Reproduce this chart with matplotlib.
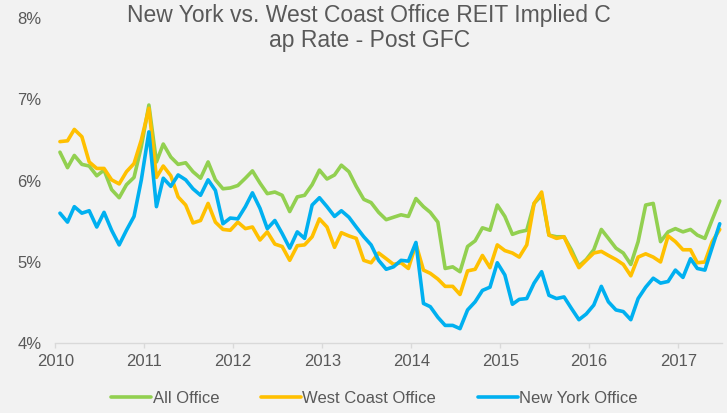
import numpy as np
import pandas as pd
import matplotlib
matplotlib.use("Agg")
import matplotlib.pyplot as plt
import matplotlib.dates as mdates

# monthly implied cap rates (%), Jan 2010 - Jun 2017
dates = pd.date_range("2010-01-20", periods=90, freq=pd.DateOffset(months=1))

all_office = [
    6.35, 6.16, 6.31, 6.20, 6.18, 6.06, 6.13, 5.89, 5.79, 5.95, 6.04, 6.42,
    6.93, 6.23, 6.45, 6.29, 6.20, 6.22, 6.11, 6.03, 6.23, 6.01, 5.90, 5.91,
    5.94, 6.03, 6.12, 5.97, 5.84, 5.86, 5.82, 5.62, 5.80, 5.82, 5.95, 6.13,
    6.02, 6.07, 6.19, 6.11, 5.93, 5.77, 5.73, 5.61, 5.52, 5.55, 5.58, 5.56,
    5.78, 5.68, 5.61, 5.49, 4.92, 4.94, 4.88, 5.19, 5.26, 5.42, 5.39, 5.70,
    5.56, 5.34, 5.37, 5.39, 5.72, 5.82, 5.33, 5.31, 5.31, 5.15, 4.95, 5.03,
    5.15, 5.40, 5.29, 5.17, 5.11, 4.97, 5.25, 5.70, 5.72, 5.25, 5.37, 5.41,
    5.37, 5.40, 5.33, 5.29, 5.52, 5.75,
]
west_coast = [
    6.48, 6.49, 6.63, 6.54, 6.23, 6.15, 6.15, 6.01, 5.96, 6.11, 6.21, 6.50,
    6.89, 6.04, 6.18, 6.06, 5.80, 5.70, 5.48, 5.51, 5.72, 5.49, 5.40, 5.39,
    5.49, 5.41, 5.43, 5.27, 5.37, 5.22, 5.19, 5.02, 5.20, 5.21, 5.31, 5.53,
    5.43, 5.18, 5.36, 5.32, 5.29, 5.02, 4.99, 5.11, 5.04, 4.97, 4.99, 4.92,
    5.22, 4.90, 4.86, 4.79, 4.70, 4.70, 4.60, 4.89, 4.91, 5.08, 4.93, 5.21,
    5.14, 5.11, 5.06, 5.21, 5.72, 5.86, 5.33, 5.29, 5.31, 5.11, 4.93, 5.02,
    5.11, 5.13, 5.08, 5.03, 4.97, 4.83, 5.06, 5.10, 5.06, 5.00, 5.32, 5.25,
    5.15, 5.15, 4.99, 5.00, 5.25, 5.40,
]
new_york = [
    5.60, 5.49, 5.68, 5.60, 5.63, 5.43, 5.61, 5.39, 5.21, 5.39, 5.56, 6.01,
    6.60, 5.68, 6.03, 5.93, 6.07, 6.01, 5.90, 5.82, 6.01, 5.88, 5.47, 5.54,
    5.53, 5.68, 5.85, 5.66, 5.41, 5.51, 5.35, 5.17, 5.37, 5.29, 5.70, 5.79,
    5.68, 5.56, 5.63, 5.55, 5.43, 5.31, 5.21, 5.02, 4.91, 4.94, 5.02, 5.01,
    5.24, 4.49, 4.45, 4.32, 4.22, 4.22, 4.18, 4.41, 4.51, 4.65, 4.69, 4.99,
    4.84, 4.48, 4.54, 4.55, 4.74, 4.88, 4.59, 4.55, 4.57, 4.43, 4.29, 4.36,
    4.47, 4.70, 4.51, 4.41, 4.39, 4.29, 4.55, 4.69, 4.80, 4.74, 4.76, 4.90,
    4.81, 5.04, 4.92, 4.90, 5.18, 5.47,
]

series = [
    ("All Office", all_office, "#92D050"),
    ("West Coast Office", west_coast, "#FFC000"),
    ("New York Office", new_york, "#00B0F0"),
]

BG = "#F2F2F2"
GREY = "#595959"

plt.rcParams["font.family"] = ["Liberation Sans", "DejaVu Sans"]

fig = plt.figure(figsize=(7.27, 4.13), dpi=100, facecolor=BG)
ax = fig.add_axes([0.0761, 0.1688, 0.9166, 0.7876], facecolor=BG)

for name, vals, color in series:
    ax.plot(dates, vals, color=color, lw=2.6, label=name,
            solid_joinstyle="round", solid_capstyle="round")

ax.set_ylim(4, 8)
ax.set_yticks([4, 5, 6, 7, 8])
ax.set_yticklabels([f"{v}%" for v in range(4, 9)])
ax.set_xlim(pd.Timestamp("2010-01-01"), pd.Timestamp("2017-06-28"))
ax.xaxis.set_major_locator(mdates.YearLocator())
ax.xaxis.set_major_formatter(mdates.DateFormatter("%Y"))

for side in ("top", "right", "left"):
    ax.spines[side].set_visible(False)
ax.spines["bottom"].set_color("#D9D9D9")
ax.spines["bottom"].set_linewidth(1.0)
ax.tick_params(axis="x", colors="#D9D9D9", length=3.6, width=1.0,
               labelcolor=GREY, labelsize=12, pad=4)
ax.tick_params(axis="y", length=0, labelcolor=GREY, labelsize=12, pad=10)

fig.text(0.508, 0.932, "New York vs. West Coast Office REIT Implied C\nap Rate - Post GFC",
         ha="center", va="center", multialignment="center",
         fontsize=16.5, color=GREY, linespacing=1.1)

fig.legend(loc="center", bbox_to_anchor=(0.515, 0.036), ncol=3, frameon=False,
           fontsize=12, labelcolor=GREY, handlelength=2.4, handletextpad=0.1,
           columnspacing=2.5)

fig.savefig("out.png", dpi=100, facecolor=BG)
